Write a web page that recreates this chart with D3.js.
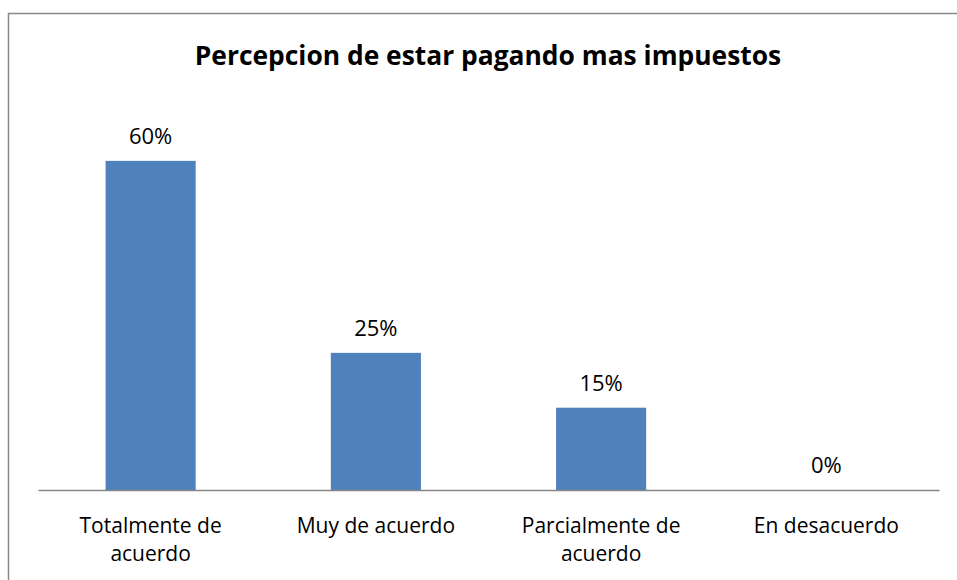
<!DOCTYPE html>
<html lang="es">
<head>
    <meta charset="UTF-8">
    <script src="https://d3js.org/d3.v7.min.js"></script>
    <style>
        body { margin: 0; background: #fff; }
        text { font-family: "Open Sans", Lato, sans-serif; fill: #000; }
    </style>
</head>
<body>
    <svg id="chart" width="957" height="580"></svg>
    <script>
        // datos del grafico
        const categorias = ["Totalmente de acuerdo", "Muy de acuerdo", "Parcialmente de acuerdo", "En desacuerdo"];
        const lineasEtiqueta = [["Totalmente de", "acuerdo"], ["Muy de acuerdo"], ["Parcialmente de", "acuerdo"], ["En desacuerdo"]];
        const valores = [0.60, 0.25, 0.15, 0.00];
        const titulo = "Percepcion de estar pagando mas impuestos";

        const width = 957, height = 580;
        const margin = { top: 106, right: 18, bottom: 90, left: 38 };

        const svg = d3.select("#chart");

        // borde del area del grafico
        svg.append("rect")
            .attr("x", 8.5)
            .attr("y", 13.5)
            .attr("width", 960)
            .attr("height", 600)
            .attr("fill", "none")
            .attr("stroke", "#888")
            .attr("stroke-width", 1.5);

        svg.append("text")
            .attr("x", 488)
            .attr("y", 65)
            .attr("text-anchor", "middle")
            .style("font-size", "26.4px")
            .style("font-weight", "bold")
            .text(titulo);

        const x = d3.scaleBand()
            .domain(categorias)
            .range([margin.left, width - margin.right])
            .paddingInner(0.6)
            .paddingOuter(0.3);

        const y = d3.scaleLinear()
            .domain([0, 0.7])
            .range([height - margin.bottom, margin.top]);

        svg.selectAll(".bar")
            .data(valores)
            .enter().append("rect")
            .attr("class", "bar")
            .attr("x", (d, i) => x(categorias[i]))
            .attr("y", d => y(d))
            .attr("width", x.bandwidth())
            .attr("height", d => y(0) - y(d))
            .attr("fill", "#4F81BD");

        // eje X
        const ejeX = svg.append("g")
            .attr("transform", `translate(0,${y(0)})`)
            .call(d3.axisBottom(x).tickSize(0).tickFormat(""));
        ejeX.select(".domain").attr("stroke", "#868686").attr("stroke-width", 1.5);

        // etiquetas de categoria, una linea por texto
        categorias.forEach((c, i) => {
            lineasEtiqueta[i].forEach((linea, j) => {
                svg.append("text")
                    .attr("class", "cat")
                    .attr("x", x(c) + x.bandwidth() / 2)
                    .attr("y", y(0) + 43 + j * 28)
                    .attr("text-anchor", "middle")
                    .style("font-size", "21px")
                    .text(linea);
            });
        });

        // etiquetas de valor
        svg.selectAll(".label")
            .data(valores)
            .enter().append("text")
            .attr("class", "label")
            .attr("x", (d, i) => x(categorias[i]) + x.bandwidth() / 2)
            .attr("y", d => y(d) - 17)
            .attr("text-anchor", "middle")
            .style("font-size", "22px")
            .text(d => `${Math.round(d * 100)}%`);
    </script>
</body>
</html>
